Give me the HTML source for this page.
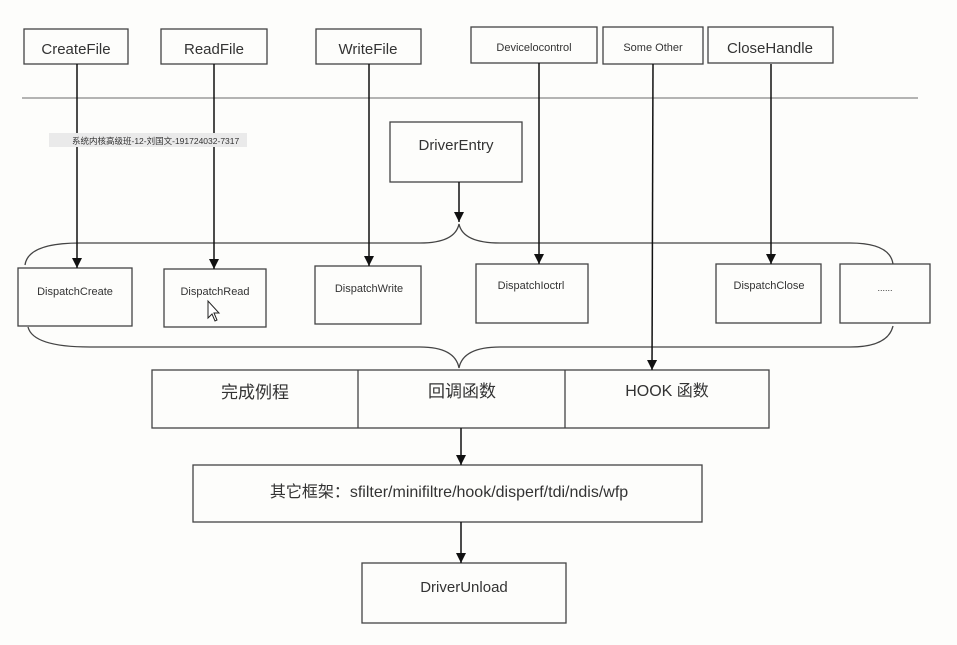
<!DOCTYPE html>
<html><head><meta charset="utf-8"><style>
html,body{margin:0;padding:0;background:#fdfdfb;}
svg{display:block}
text{font-family:"Liberation Sans","Noto Sans CJK SC",sans-serif;fill:#333;}
</style></head><body>
<svg width="957" height="645" viewBox="0 0 957 645" xmlns="http://www.w3.org/2000/svg">
<defs><marker id="a" markerWidth="10" markerHeight="10" refX="10" refY="5" orient="auto" markerUnits="userSpaceOnUse"><path d="M0,0 L10,5 L0,10 Z" fill="#111"/></marker></defs>
<g fill="none" stroke="#444" stroke-width="1.3">
<rect x="24" y="29" width="104" height="35"/>
<rect x="161" y="29" width="106" height="35"/>
<rect x="316" y="29" width="105" height="35"/>
<rect x="471" y="27" width="126" height="36"/>
<rect x="603" y="27" width="100" height="37"/>
<rect x="708" y="27" width="125" height="36"/>
<rect x="390" y="122" width="132" height="60"/>
<rect x="18" y="268" width="114" height="58"/>
<rect x="164" y="269" width="102" height="58"/>
<rect x="315" y="266" width="106" height="58"/>
<rect x="476" y="264" width="112" height="59"/>
<rect x="716" y="264" width="105" height="59"/>
<rect x="840" y="264" width="90" height="59"/>
<rect x="152" y="370" width="617" height="58"/>
<line x1="358" y1="370" x2="358" y2="428"/>
<line x1="565" y1="370" x2="565" y2="428"/>
<rect x="193" y="465" width="509" height="57"/>
<rect x="362" y="563" width="204" height="60"/>
</g>
<line x1="22" y1="98" x2="918" y2="98" stroke="#888" stroke-width="1.3"/>
<path d="M25,265 Q28,243 80,243 L420,243 Q455,243 459,224 Q463,243 500,243 L850,243 Q890,243 893,264" fill="none" stroke="#444" stroke-width="1.3"/>
<path d="M28,327 Q33,347 90,347 L420,347 Q455,347 459,368 Q463,347 500,347 L850,347 Q888,347 893,326" fill="none" stroke="#444" stroke-width="1.3"/>
<g stroke="#111" stroke-width="1.5" marker-end="url(#a)">
<line x1="77" y1="64" x2="77" y2="268"/>
<line x1="214" y1="64" x2="214" y2="269"/>
<line x1="369" y1="64" x2="369" y2="266"/>
<line x1="539" y1="63" x2="539" y2="264"/>
<line x1="771" y1="64" x2="771" y2="264"/>
<line x1="653" y1="64" x2="652" y2="370"/>
<line x1="459" y1="182" x2="459" y2="222"/>
<line x1="461" y1="428" x2="461" y2="465"/>
<line x1="461" y1="522" x2="461" y2="563"/>
</g>
<rect x="49" y="133" width="198" height="14" fill="#eaeaea"/>
<text x="72" y="144" font-size="8.5" fill="#222">系统内核高级班-12-刘国文-191724032-7317</text>
<text x="76" y="54" font-size="15" text-anchor="middle">CreateFile</text>
<text x="214" y="54" font-size="15" text-anchor="middle">ReadFile</text>
<text x="368" y="54" font-size="15" text-anchor="middle">WriteFile</text>
<text x="534" y="51" font-size="11" text-anchor="middle">Devicelocontrol</text>
<text x="653" y="51" font-size="11" text-anchor="middle">Some Other</text>
<text x="770" y="53" font-size="15" text-anchor="middle">CloseHandle</text>
<text x="456" y="150" font-size="15" text-anchor="middle">DriverEntry</text>
<text x="75" y="295" font-size="11" text-anchor="middle">DispatchCreate</text>
<text x="215" y="295" font-size="11" text-anchor="middle">DispatchRead</text>
<text x="369" y="292" font-size="11" text-anchor="middle">DispatchWrite</text>
<text x="531" y="289" font-size="11" text-anchor="middle">DispatchIoctrl</text>
<text x="769" y="289" font-size="11" text-anchor="middle">DispatchClose</text>
<text x="885" y="291" font-size="9" text-anchor="middle">......</text>
<path d="M208,301 L208,318 L212,314 L215,321 L217,320 L214,313 L219,313 Z" fill="#fff" stroke="#222" stroke-width="1"/>
<text x="255" y="398" font-size="17" text-anchor="middle">完成例程</text>
<text x="462" y="397" font-size="17" text-anchor="middle">回调函数</text>
<text x="667" y="396" font-size="16" text-anchor="middle">HOOK 函数</text>
<text x="449" y="497" font-size="16" text-anchor="middle">其它框架：sfilter/minifiltre/hook/disperf/tdi/ndis/wfp</text>
<text x="464" y="592" font-size="15" text-anchor="middle">DriverUnload</text>
</svg>
</body></html>
